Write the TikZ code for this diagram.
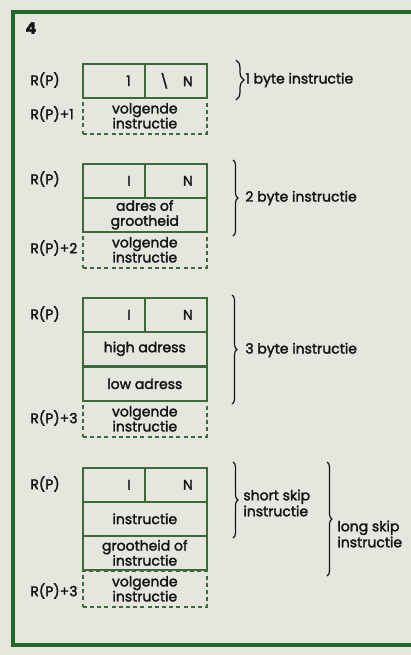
\documentclass[tikz,border=0pt]{standalone}
\usepackage{fontspec}
\setmainfont{Poppins}[FakeBold=2]
\usepackage{xcolor}
\usetikzlibrary{decorations.pathreplacing,positioning}
\definecolor{paper}{HTML}{E6E6DE}
\definecolor{framegreen}{HTML}{1F6A2B}
\definecolor{boxgreen}{HTML}{3B6B3B}
\definecolor{ink}{HTML}{141414}

\begin{document}
\begin{tikzpicture}[x=0.5pt, y=-0.5pt, text=ink,
  txt/.style={font=\fontsize{7}{8}\selectfont, inner sep=0pt, anchor=west, align=left},
  halfcell/.style={draw=boxgreen, line width=0.8pt, anchor=north west,
                   minimum width=31pt, minimum height=17pt, text width=17pt,
                   inner xsep=7pt, inner ysep=0pt, align=right,
                   font=\fontsize{7}{8}\selectfont},
  fullcell/.style={draw=boxgreen, line width=0.8pt, anchor=north west,
                   minimum width=62pt, minimum height=17pt, inner sep=0pt,
                   align=center, font=\fontsize{7}{7.5}\selectfont},
  nextcell/.style={fullcell, dash pattern=on 2pt off 1.6pt, minimum height=18pt},
  brc/.style={decorate, decoration={brace, amplitude=#1}, line width=0.6pt, draw=ink},
]
  \fill[paper] (0,0) rectangle (411,655);
  \useasboundingbox (0,0) rectangle (411,655);
  \draw[framegreen, line width=1.6pt] (411,12) -- (13,12) -- (13,645) -- (411,645);
  \node[txt, font=\bfseries\fontsize{8}{8}\selectfont] (fig) at (25,28) {4};

  % 1 byte
  \node[nextcell] (v1) at (82,97) {volgende\\instructie};
  \node[halfcell] (i1) at (82,63) {1};
  \node[halfcell] (n1) at (144,63) {\textbackslash\quad N};
  \node[txt] (rp1) at (30,80) {R(P)};
  \node[txt] (rq1) at (30,114) {R(P)+1};
  \coordinate (b1t) at (236,60);
  \coordinate (b1b) at (236,100);
  \draw[brc=4pt] (b1t) -- (b1b);
  \node[txt] (t1) at (245,80) {1 byte instructie};

  % 2 byte
  \node[nextcell] (v2) at (82,231) {volgende\\instructie};
  \node[halfcell] (i2) at (82,163) {I};
  \node[halfcell] (n2) at (144,163) {N};
  \node[fullcell] (a2) at (82,197) {adres of\\grootheid};
  \node[txt] (rp2) at (30,179) {R(P)};
  \node[txt] (rq2) at (30,248) {R(P)+2};
  \coordinate (b2t) at (233,160);
  \coordinate (b2b) at (233,236);
  \draw[brc=2.5pt] (b2t) -- (b2b);
  \node[txt] (t2) at (245,198) {2 byte instructie};

  % 3 byte
  \node[nextcell] (v3) at (82,400) {volgende\\instructie};
  \node[halfcell] (i3) at (82,297) {I};
  \node[halfcell] (n3) at (144,297) {N};
  \node[fullcell] (h3) at (82,331) {high adress};
  \node[fullcell] (l3) at (82,366) {low adress};
  \node[txt] (rp3) at (30,314) {R(P)};
  \node[txt] (rq3) at (30,418) {R(P)+3};
  \coordinate (b3t) at (232,295);
  \coordinate (b3b) at (232,404);
  \draw[brc=2.5pt] (b3t) -- (b3b);
  \node[txt] (t3) at (245,350) {3 byte instructie};

  % skip
  \node[nextcell] (v4) at (82,570) {volgende\\instructie};
  \node[halfcell] (i4) at (82,467) {I};
  \node[halfcell] (n4) at (144,467) {N};
  \node[fullcell] (s4) at (82,501) {instructie};
  \node[fullcell] (g4) at (82,535) {grootheid of\\instructie};
  \node[txt] (rp4) at (30,484) {R(P)};
  \node[txt] (rq4) at (30,591) {R(P)+3};
  \coordinate (b4t) at (233,462);
  \coordinate (b4b) at (233,538);
  \draw[brc=2.5pt] (b4t) -- (b4b);
  \node[txt] (t4) at (243,503) {short skip\\instructie};
  \coordinate (b5t) at (327,462);
  \coordinate (b5b) at (327,576);
  \draw[brc=2.5pt] (b5t) -- (b5b);
  \node[txt] (t5) at (337,534) {long skip\\instructie};
\end{tikzpicture}
\end{document}
